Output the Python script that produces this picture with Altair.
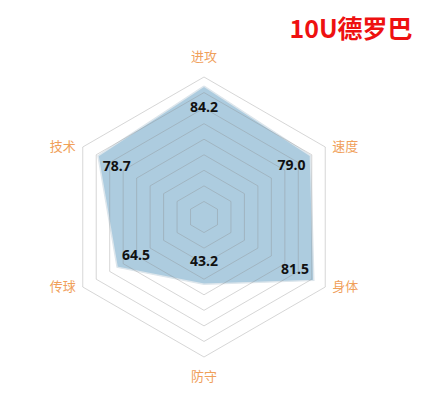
import altair as alt
import numpy as np
import pandas as pd

# skills, clockwise from the top
skills = ["进攻", "速度", "身体", "防守", "传球", "技术"]
scores = [84.2, 79.0, 81.5, 43.2, 64.5, 78.7]
angles = [90, 30, -30, -90, -150, 150]
grid_levels = [10, 20, 30, 40, 50, 60, 70, 80, 90]
title_text = "10U德罗巴"

R_MAX = 90
PX = 140 / R_MAX  # pixels per unit

rad = np.radians(angles)
cx, cy = np.cos(rad), np.sin(rad)

# grid rings
rows = []
for lv in grid_levels:
    for i in range(7):
        k = i % 6
        rows.append({"level": lv, "i": i, "x": lv * cx[k], "y": lv * cy[k]})
grid = pd.DataFrame(rows)

shape = pd.DataFrame({
    "i": list(range(7)),
    "x": [scores[i % 6] * cx[i % 6] for i in range(7)],
    "y": [scores[i % 6] * cy[i % 6] for i in range(7)],
})

vals = pd.DataFrame({
    "label": [f"{s:.1f}" for s in scores],
    "x": [(s - 14) * c for s, c in zip(scores, cx)],
    "y": [(s - 14) * c for s, c in zip(scores, cy)],
})

# axis names sit just outside the outer ring
off = 20 / PX
lab_x, lab_y = [], []
for a, c, s in zip(angles, cx, cy):
    if a in (90, -90):
        lab_x.append(0)
        lab_y.append(R_MAX * s + np.sign(s) * off)
    else:
        lab_x.append(R_MAX * c + np.sign(c) * off)
        lab_y.append(R_MAX * s)
names = pd.DataFrame({"name": skills, "x": lab_x, "y": lab_y})

W, H = 431, 397
ox, oy = 196, 209
xs = alt.Scale(domain=[-ox / PX, (W - ox) / PX], nice=False, zero=False)
ys = alt.Scale(domain=[-(H - oy) / PX, oy / PX], nice=False, zero=False)
X = lambda: alt.X("x:Q", scale=xs, axis=None)
Y = lambda: alt.Y("y:Q", scale=ys, axis=None)

fill = alt.Chart(shape).mark_line(
    filled=True, fill="#a9c9dd", fillOpacity=0.95, stroke="#dde6ec", strokeWidth=1.5
).encode(X(), Y(), order="i:O")

rings = alt.Chart(grid).mark_line(stroke="#8a8a8a", strokeOpacity=0.35, strokeWidth=1).encode(
    X(), Y(), detail="level:N", order="i:O"
)

num = alt.Chart(vals).mark_text(
    font="Open Sans", fontSize=14, fontWeight="bold", color="#111111"
).encode(X(), Y(), text="label:N")

lab = alt.Chart(names).mark_text(
    font="Noto Sans CJK SC", fontSize=13, color="#f0a05a"
).encode(X(), Y(), text="name:N")

ttl = alt.Chart(pd.DataFrame({"t": [title_text]})).mark_text(
    font="Noto Sans CJK SC", fontSize=25, fontWeight="bold", color="#ee1111", align="center"
).encode(x=alt.value(343), y=alt.value(22), text="t:N")

chart = (fill + rings + num + lab + ttl).properties(
    width=W, height=H, padding=0
).configure_view(strokeWidth=0)

chart.save("out.html", embed_options={"renderer": "svg", "actions": False})
